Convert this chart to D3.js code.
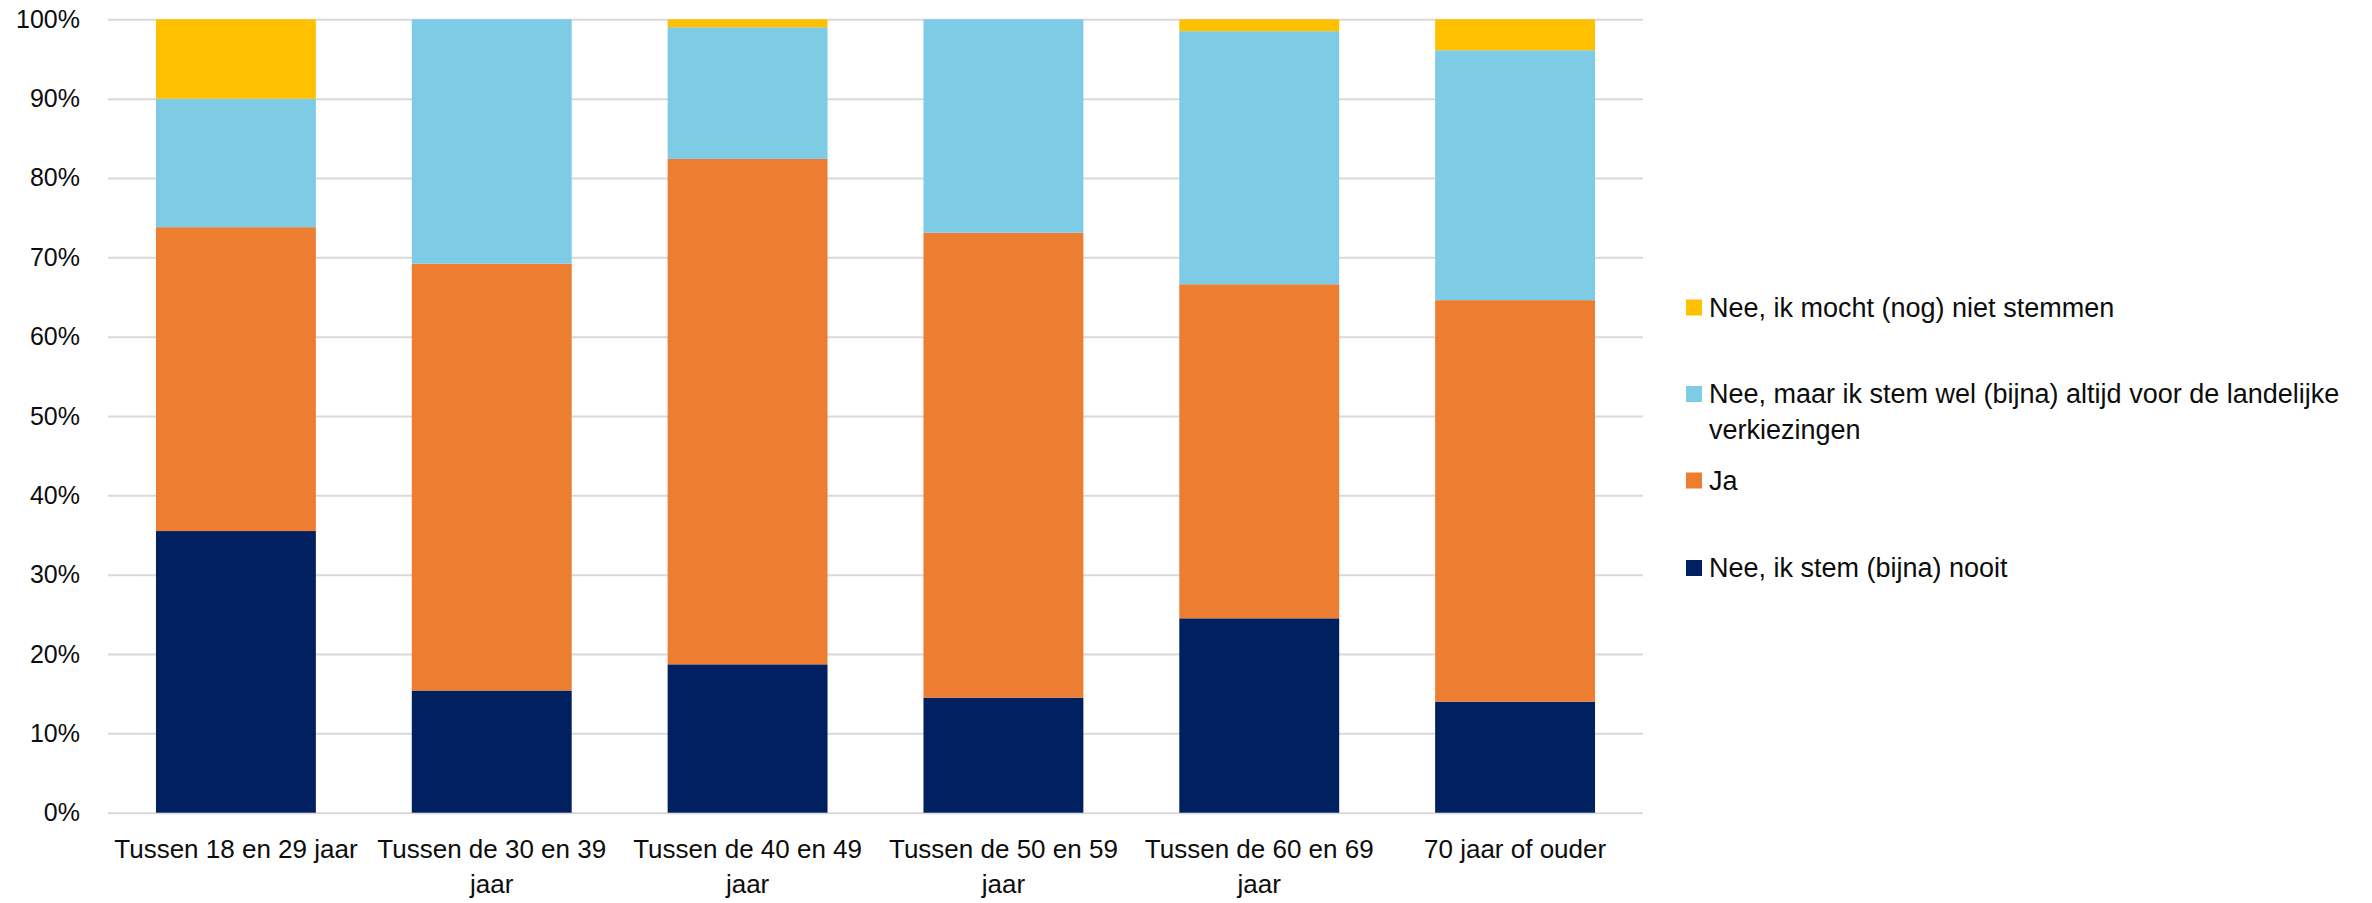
<!DOCTYPE html>
<meta charset='utf-8'>

<style>

    body {
      margin: 0;
      background: #fff;
    }

    text {
      font-family: "Liberation Sans", Arial, sans-serif;
      fill: #0d0d0d;
    }

    .grid line {
      stroke: #d9d9d9;
      stroke-width: 2;
    }

    .axis path,
    .grid path {
      display: none;
    }

</style>

<svg width="2372" height="903"></svg>

<!-- get d3 -->
<script src="https://d3js.org/d3.v7.min.js"></script>

<script>

// data (percentages per age group)
var categories = [
  "Tussen 18 en 29 jaar",
  "Tussen de 30 en 39 jaar",
  "Tussen de 40 en 49 jaar",
  "Tussen de 50 en 59 jaar",
  "Tussen de 60 en 69 jaar",
  "70 jaar of ouder"
];

var nooit     = [35.5, 15.4, 18.7, 14.5, 24.5, 14.0];
var ja        = [38.3, 53.8, 63.7, 58.6, 42.1, 50.6];
var altijd    = [16.2, 30.8, 16.6, 26.9, 31.9, 31.5];
var nietMogen = [10.0, 0.0, 1.0, 0.0, 1.5, 3.9];

var seriesKeys = ["nooit", "ja", "altijd", "nietMogen"];
var seriesNames = [
  "Nee, ik stem (bijna) nooit",
  "Ja",
  "Nee, maar ik stem wel (bijna) altijd voor de landelijke verkiezingen",
  "Nee, ik mocht (nog) niet stemmen"
];
var seriesColors = ["#002060", "#ed7d31", "#7ecbe6", "#ffc000"];

var yTicks = [0, 0.1, 0.2, 0.3, 0.4, 0.5, 0.6, 0.7, 0.8, 0.9, 1];


var svg = d3.select("svg");

var plotLeft = 108,
  plotRight = 1643,
  plotTop = 19.3,
  plotBottom = 812.7;

// table for d3.stack
var table = categories.map(function(c, i) {
  return {
    cat: c,
    nooit: nooit[i] / 100,
    ja: ja[i] / 100,
    altijd: altijd[i] / 100,
    nietMogen: nietMogen[i] / 100
  };
});

var x = d3.scaleBand()
  .domain(categories)
  .range([plotLeft, plotRight])
  .paddingInner(0.375)
  .paddingOuter(0.1875);

var y = d3.scaleLinear()
  .domain([0, 1])
  .range([plotBottom, plotTop]);

var color = d3.scaleOrdinal()
  .domain(seriesKeys)
  .range(seriesColors);

// gridlines
svg.append("g")
  .attr("class", "grid")
  .attr("transform", "translate(" + plotLeft + ",0)")
  .call(d3.axisLeft(y)
    .tickValues(yTicks)
    .tickSize(-(plotRight - plotLeft))
    .tickFormat(""))
;

// bars
var stack = d3.stack().keys(seriesKeys);

svg.append("g")
  .selectAll("g")
  .data(stack(table))
  .enter()
  .append("g")
  .attr("fill", function(d) { return color(d.key); })
  .selectAll("rect")
  .data(function(d) { return d; })
  .enter()
  .append("rect")
  .attr("x", function(d) { return x(d.data.cat); })
  .attr("width", x.bandwidth())
  .attr("y", function(d) { return y(d[1]); })
  .attr("height", function(d) { return y(d[0]) - y(d[1]); })
;

// y axis labels
var yAxis = svg.append("g")
  .attr("class", "axis")
  .attr("transform", "translate(" + plotLeft + ",0)")
  .call(d3.axisLeft(y)
    .tickValues(yTicks)
    .tickSize(0)
    .tickPadding(28)
    .tickFormat(d3.format(".0%")));

yAxis.selectAll("text")
  .style("font-size", "25px")
  .attr("fill", "#0d0d0d");

// x axis labels
var xAxis = svg.append("g")
  .attr("class", "axis")
  .attr("transform", "translate(0," + plotBottom + ")")
  .call(d3.axisBottom(x).tickSize(0));

xAxis.selectAll("text")
  .style("font-size", "26px")
  .attr("fill", "#0d0d0d")
  .attr("y", 45)
  .attr("dy", null)
  .call(wrap, x.step(), 35);

// legend (top to bottom reversed like the stack)
var legendY = [568, 480.5, 394, 307.5];

var legend = svg.append("g")
  .selectAll("g")
  .data(seriesKeys)
  .enter()
  .append("g")
  .attr("transform", function(d, i) { return "translate(1686," + legendY[i] + ")"; });

legend.append("rect")
  .attr("y", -8)
  .attr("width", 16)
  .attr("height", 16)
  .attr("fill", function(d) { return color(d); });

legend.append("text")
  .attr("x", 23)
  .attr("y", 9)
  .style("font-size", "27px")
  .text(function(d, i) { return seriesNames[i]; })
  .call(wrap, 680, 36);


// split a text node into tspans that fit the given width
function wrap(texts, width, lineHeight) {
  texts.each(function() {
    var text = d3.select(this),
      words = text.text().split(/\s+/),
      xPos = text.attr("x") || 0,
      yPos = text.attr("y") || 0,
      line = [],
      lineNo = 0,
      tspan = text.text(null).append("tspan").attr("x", xPos).attr("y", yPos);

    words.forEach(function(word) {
      line.push(word);
      tspan.text(line.join(" "));
      if (tspan.node().getComputedTextLength() > width && line.length > 1) {
        line.pop();
        tspan.text(line.join(" "));
        line = [word];
        lineNo++;
        tspan = text.append("tspan")
          .attr("x", xPos)
          .attr("y", +yPos + lineNo * lineHeight)
          .text(word);
      }
    });
  });
}

</script>
